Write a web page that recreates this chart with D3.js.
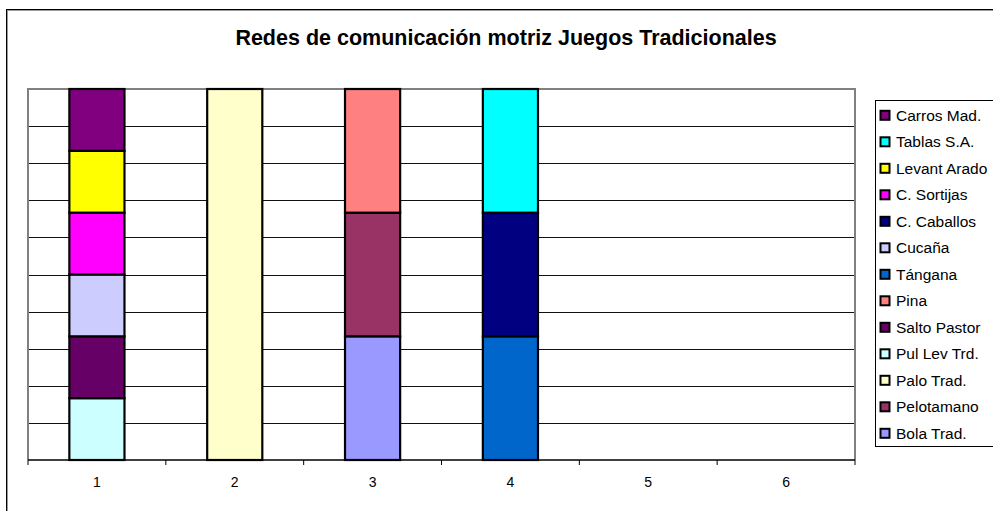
<!DOCTYPE html>
<html><head><meta charset="utf-8">
<script src="https://cdn.jsdelivr.net/npm/d3@7"></script>
<style>body{margin:0;background:#fff}svg{display:block}</style>
</head><body><svg id="c" width="993" height="511"></svg>
<script>
const categories = ["1","2","3","4","5","6"];
// series in stacking order (bottom to top)
const seriesNames = ["Bola Trad.","Pelotamano","Palo Trad.","Pul Lev Trd.","Salto Pastor","Pina","Tángana","Cucaña","C. Caballos","C. Sortijas","Levant Arado","Tablas S.A.","Carros Mad."];
const seriesColors = ["#9999FF","#993366","#FFFFCC","#CCFFFF","#660066","#FF8080","#0066CC","#CCCCFF","#000080","#FF00FF","#FFFF00","#00FFFF","#800080"];
const bolaTrad    = [0,0,1,0,0,0];
const pelotamano  = [0,0,1,0,0,0];
const paloTrad    = [0,1,0,0,0,0];
const pulLevTrd   = [1,0,0,0,0,0];
const saltoPastor = [1,0,0,0,0,0];
const pina        = [0,0,1,0,0,0];
const tangana     = [0,0,0,1,0,0];
const cucana      = [1,0,0,0,0,0];
const cCaballos   = [0,0,0,1,0,0];
const cSortijas   = [1,0,0,0,0,0];
const levantArado = [1,0,0,0,0,0];
const tablasSA    = [0,0,0,1,0,0];
const carrosMad   = [1,0,0,0,0,0];
const seriesValues = [bolaTrad,pelotamano,paloTrad,pulLevTrd,saltoPastor,pina,tangana,cucana,cCaballos,cSortijas,levantArado,tablasSA,carrosMad];
const title = "Redes de comunicación motriz Juegos Tradicionales";

const svg = d3.select("#c");
const font = "Arial, 'Liberation Sans', sans-serif";

// outer frame
svg.append("rect").attr("x",7.5).attr("y",10.5).attr("width",1000).attr("height",600).attr("fill","none").attr("stroke","#999").attr("stroke-width",1);
svg.append("rect").attr("x",6.5).attr("y",9.5).attr("width",1000).attr("height",600).attr("fill","none").attr("stroke","#000").attr("stroke-width",1);

svg.append("text").attr("x",506).attr("y",45).attr("text-anchor","middle")
  .attr("font-family",font).attr("font-weight","bold").attr("font-size","21.5px").attr("fill","#000").text(title);

const L = 28, R = 855, T = 89, B = 460;
const x = d3.scaleBand().domain(categories).range([L,R]).paddingInner(0.6).paddingOuter(0.3);
const xb = d3.scaleBand().domain(categories).range([L,R]);
const y = d3.scaleLinear().domain([0,1]).range([B,T]);

// gridlines
svg.append("g").selectAll("line").data(d3.range(1,10).map(i=>i/10)).join("line")
  .attr("x1",L).attr("x2",R).attr("y1",d=>Math.round(y(d))+0.5).attr("y2",d=>Math.round(y(d))+0.5)
  .attr("stroke","#111").attr("stroke-width",1);

// plot border (gray)
svg.append("path").attr("d",`M${L},${B}V${T}H${R}V${B}`).attr("fill","none").attr("stroke","#808080").attr("stroke-width",2);

// stacked data
const table = categories.map((c,j)=>{const o={cat:c}; seriesNames.forEach((s,i)=>o[s]=seriesValues[i][j]); return o;});
const stacked = d3.stack().keys(seriesNames).offset(d3.stackOffsetExpand)(table);

svg.append("g").selectAll("g").data(stacked).join("g")
  .attr("fill",(d,i)=>seriesColors[i])
  .selectAll("rect").data(d=>d.filter(p=>p[1]-p[0]>0)).join("rect")
  .attr("x",d=>x(d.data.cat)).attr("width",x.bandwidth())
  .attr("y",d=>y(d[1])).attr("height",d=>y(d[0])-y(d[1]))
  .attr("stroke","#000").attr("stroke-width",2.2);

// x axis
const ax = svg.append("g").attr("transform",`translate(0,${B})`);
ax.append("line").attr("x1",L).attr("x2",R).attr("y1",0).attr("y2",0).attr("stroke","#000").attr("stroke-width",1.5);
ax.selectAll("line.t").data(categories.concat(["end"])).join("line").attr("class","t")
  .attr("x1",(d,i)=>i<categories.length?xb(d):R).attr("x2",(d,i)=>i<categories.length?xb(d):R)
  .attr("y1",0).attr("y2",5).attr("stroke","#000").attr("stroke-width",1);
ax.selectAll("text").data(categories).join("text")
  .attr("x",d=>xb(d)+xb.bandwidth()/2).attr("y",27).attr("text-anchor","middle")
  .attr("font-family",font).attr("font-size","14px").attr("fill","#000").text(d=>d);

// legend (reverse order)
const lg = svg.append("g");
lg.append("rect").attr("x",875.5).attr("y",100.5).attr("width",150).attr("height",346).attr("fill","#fff").attr("stroke","#000");
const items = seriesNames.map((n,i)=>({n,c:seriesColors[i]})).reverse();
const li = lg.selectAll("g").data(items).join("g").attr("transform",(d,i)=>`translate(0,${115.3+i*26.5})`);
li.append("rect").attr("x",880.5).attr("y",-4.5).attr("width",9).attr("height",9).attr("fill",d=>d.c).attr("stroke","#000").attr("stroke-width",2);
li.append("text").attr("x",896).attr("y",5.5).attr("font-family",font).attr("font-size","15.5px").attr("fill","#000").text(d=>d.n);
</script></body></html>
